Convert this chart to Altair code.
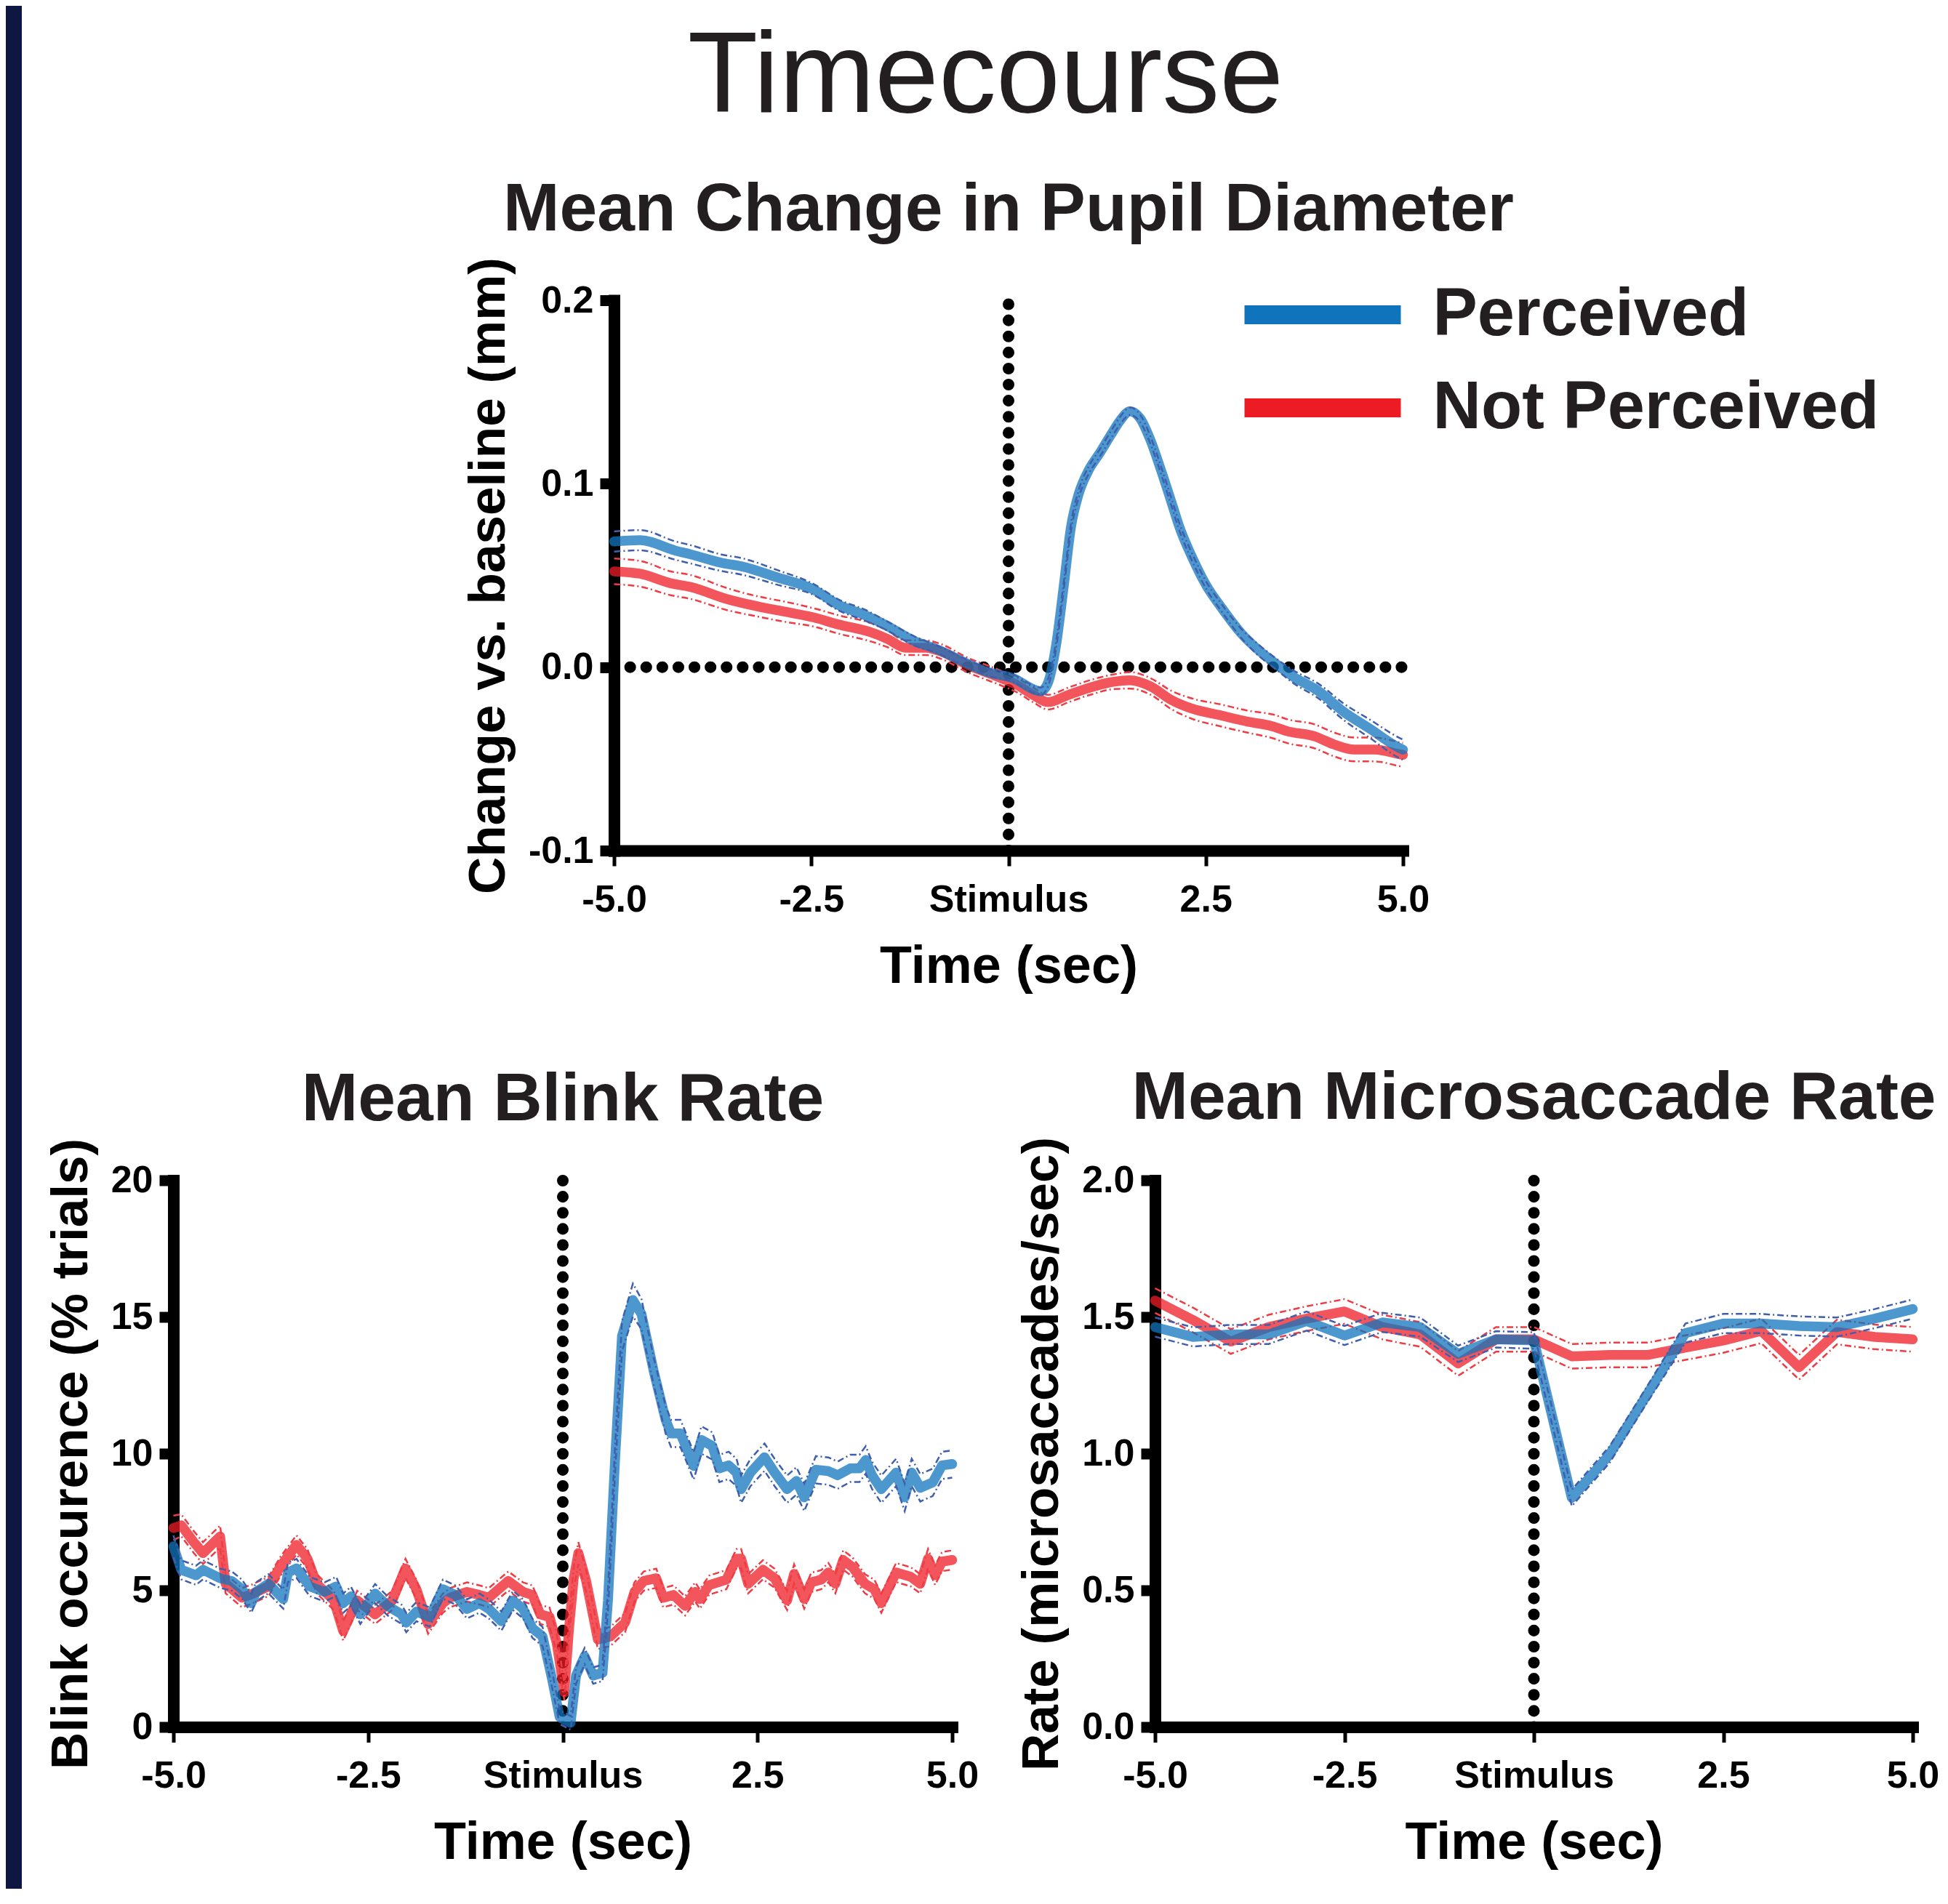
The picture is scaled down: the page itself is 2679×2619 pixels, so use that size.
import altair as alt
import pandas as pd

FONT = "Liberation Sans"
TXT = "#231f20"
BLUE = "#1074bc"
RED = "#ed1c24"
BLUE_CI = "#3f5fae"
RED_CI = "#ef3c44"
NAVY = "#0d1742"

SERIES = ["Perceived", "Not Perceived"]
X_TICKS = [-5.0, -2.5, 0.0, 2.5, 5.0]

# ---------------- Pupil diameter (mm change vs baseline) ----------------
PUPIL_P_T = [-5.0, -4.67, -4.22, -4.03, -3.64, -3.38, -2.93, -2.47, -2.15, -1.83,
             -1.57, -1.18, -0.92, -0.53, -0.27, 0.05, 0.41, 0.50, 0.60, 0.70,
             0.79, 0.89, 1.02, 1.15, 1.31, 1.41, 1.54, 1.67, 1.80, 1.93,
             2.06, 2.18, 2.31, 2.51, 2.70, 2.96, 3.15, 3.38, 3.61, 3.93,
             4.25, 4.58, 4.93, 5.0]
PUPIL_P_V = [0.0685, 0.0692, 0.0635, 0.0615, 0.0569, 0.0549, 0.0489, 0.0423, 0.0338, 0.0285,
             0.0232, 0.0140, 0.0100, 0.0021, -0.0026, -0.0059, -0.0131, -0.0085, 0.0113, 0.0443,
             0.0760, 0.0945, 0.1077, 0.1163, 0.1275, 0.1342, 0.1395, 0.1355, 0.1236, 0.1077,
             0.0906, 0.0747, 0.0615, 0.0443, 0.0324, 0.0179, 0.0100, 0.0021, -0.0052, -0.0131,
             -0.0244, -0.0336, -0.0435, -0.0450]
PUPIL_P_SEM = [0.0055, 0.0055, 0.005, 0.005, 0.0045, 0.0045, 0.004, 0.003, 0.003, 0.003,
               0.0025, 0.0025, 0.002, 0.002, 0.002, 0.002, 0.002, 0.002, 0.002, 0.002,
               0.002, 0.002, 0.002, 0.002, 0.002, 0.002, 0.002, 0.002, 0.002, 0.002,
               0.002, 0.002, 0.002, 0.002, 0.002, 0.0025, 0.003, 0.003, 0.0035, 0.004,
               0.0045, 0.005, 0.0055, 0.0055]

PUPIL_N_T = [-5.0, -4.67, -4.28, -4.03, -3.57, -3.18, -2.86, -2.47, -2.15, -1.76,
             -1.53, -1.31, -1.05, -0.86, -0.53, -0.14, 0.11, 0.31, 0.50, 0.76,
             1.08, 1.34, 1.54, 1.80, 2.06, 2.31, 2.70, 3.03, 3.35, 3.54,
             3.87, 4.13, 4.38, 4.64, 4.96, 5.0]
PUPIL_N_V = [0.0522, 0.0509, 0.0457, 0.0437, 0.0371, 0.0331, 0.0304, 0.0271, 0.0232, 0.0192,
             0.0153, 0.0106, 0.0106, 0.0086, 0.0014, -0.0052, -0.0098, -0.0151, -0.0191, -0.0151,
             -0.0105, -0.0079, -0.0072, -0.0105, -0.0178, -0.0224, -0.0264, -0.0297, -0.0323, -0.0350,
             -0.0376, -0.0422, -0.0449, -0.0449, -0.0475, -0.0478]
PUPIL_N_SEM = [0.007, 0.007, 0.0065, 0.0065, 0.006, 0.0055, 0.0055, 0.005, 0.005, 0.005,
               0.0045, 0.004, 0.004, 0.004, 0.004, 0.004, 0.004, 0.004, 0.004, 0.004,
               0.004, 0.004, 0.0045, 0.0045, 0.005, 0.0055, 0.006, 0.006, 0.0065, 0.0065,
               0.0065, 0.0065, 0.0065, 0.0065, 0.0065, 0.0065]

# ---------------- Blink occurrence (% trials) ----------------
BLINK_P_T = [-5.00, -4.90, -4.71, -4.62, -4.40, -4.25, -4.12, -4.00, -3.94, -3.78,
             -3.59, -3.53, -3.42, -3.25, -3.06, -2.91, -2.82, -2.72, -2.60, -2.41,
             -2.25, -2.07, -2.01, -1.88, -1.71, -1.54, -1.38, -1.23, -1.07, -0.95,
             -0.79, -0.64, -0.51, -0.39, -0.26, -0.14, -0.04, 0.10, 0.17, 0.28,
             0.39, 0.51, 0.58, 0.67, 0.76, 0.90, 1.01, 1.17, 1.32, 1.39,
             1.51, 1.60, 1.68, 1.78, 1.92, 2.01, 2.13, 2.23, 2.29, 2.41,
             2.59, 2.72, 2.88, 3.00, 3.10, 3.25, 3.41, 3.53, 3.69, 3.81,
             3.89, 3.97, 4.09, 4.28, 4.39, 4.48, 4.59, 4.75, 4.87, 5.00]
BLINK_P_V = [6.61, 5.75, 5.55, 5.75, 5.44, 5.34, 5.04, 4.53, 4.94, 5.24,
             4.68, 5.65, 5.80, 5.14, 4.94, 5.14, 4.53, 4.78, 4.12, 4.88,
             4.43, 4.12, 3.82, 4.22, 4.02, 5.04, 4.83, 4.32, 4.53, 4.32,
             3.87, 4.63, 4.32, 3.61, 3.31, 1.78, 0.36, 0.15, 1.88, 2.59,
             1.88, 1.98, 4.63, 9.72, 14.30, 15.62, 15.11, 12.98, 11.24, 10.74,
             10.74, 10.12, 9.55, 10.50, 10.28, 9.46, 9.57, 9.31, 8.70, 9.31,
             9.87, 9.31, 8.70, 9.00, 8.40, 9.41, 9.36, 9.21, 9.46, 9.46,
             9.77, 9.21, 8.70, 9.31, 8.40, 9.31, 8.75, 8.95, 9.57, 9.62]
BLINK_P_SEM = [0.40, 0.35, 0.35, 0.35, 0.35, 0.35, 0.35, 0.35, 0.35, 0.35,
               0.35, 0.35, 0.35, 0.35, 0.35, 0.35, 0.35, 0.35, 0.35, 0.35,
               0.35, 0.35, 0.35, 0.35, 0.35, 0.35, 0.35, 0.35, 0.35, 0.35,
               0.35, 0.35, 0.35, 0.35, 0.35, 0.30, 0.25, 0.25, 0.30, 0.30,
               0.30, 0.30, 0.40, 0.50, 0.55, 0.60, 0.55, 0.50, 0.50, 0.50,
               0.50, 0.50, 0.50, 0.50, 0.50, 0.50, 0.50, 0.50, 0.50, 0.50,
               0.50, 0.50, 0.50, 0.50, 0.50, 0.50, 0.50, 0.50, 0.50, 0.50,
               0.50, 0.50, 0.50, 0.50, 0.50, 0.50, 0.50, 0.50, 0.50, 0.50]

BLINK_N_T = [-5.00, -4.90, -4.74, -4.62, -4.40, -4.33, -4.12, -4.00, -3.78, -3.62,
             -3.42, -3.28, -3.16, -2.94, -2.82, -2.64, -2.41, -2.19, -2.02, -1.88,
             -1.73, -1.54, -1.45, -1.23, -1.07, -0.95, -0.70, -0.51, -0.39, -0.29,
             -0.17, -0.08, 0.02, 0.08, 0.14, 0.20, 0.30, 0.45, 0.61, 0.80,
             0.92, 1.04, 1.20, 1.29, 1.42, 1.57, 1.70, 1.76, 1.88, 2.10,
             2.23, 2.29, 2.38, 2.57, 2.72, 2.88, 2.97, 3.10, 3.19, 3.32,
             3.41, 3.50, 3.60, 3.72, 3.88, 4.00, 4.09, 4.28, 4.47, 4.59,
             4.69, 4.78, 4.87, 5.00]
BLINK_N_V = [7.28, 7.38, 6.77, 6.36, 6.97, 5.24, 4.73, 4.85, 5.14, 5.90,
             6.66, 6.16, 5.24, 4.63, 3.51, 4.63, 4.12, 4.63, 5.80, 5.04,
             3.76, 4.53, 4.73, 4.94, 4.83, 4.73, 5.34, 4.94, 4.83, 4.12,
             4.02, 3.10, 1.27, 3.61, 5.44, 6.36, 5.34, 3.20, 3.31, 3.82,
             4.94, 5.34, 5.44, 4.73, 4.83, 4.43, 4.94, 4.68, 5.19, 5.39,
             6.16, 6.16, 5.24, 5.75, 5.44, 4.63, 5.60, 4.68, 5.29, 5.39,
             5.65, 5.24, 6.11, 5.85, 5.24, 5.04, 4.53, 5.65, 5.49, 5.24,
             6.16, 5.55, 6.05, 6.11]
BLINK_N_SEM = [0.45, 0.40, 0.40, 0.40, 0.40, 0.35, 0.35, 0.35, 0.35, 0.35,
               0.35, 0.35, 0.35, 0.35, 0.35, 0.35, 0.35, 0.35, 0.35, 0.35,
               0.35, 0.35, 0.35, 0.35, 0.35, 0.35, 0.35, 0.35, 0.35, 0.35,
               0.35, 0.35, 0.30, 0.35, 0.40, 0.40, 0.40, 0.35, 0.35, 0.35,
               0.35, 0.35, 0.35, 0.35, 0.35, 0.35, 0.35, 0.35, 0.35, 0.35,
               0.35, 0.35, 0.35, 0.35, 0.35, 0.35, 0.35, 0.35, 0.35, 0.35,
               0.35, 0.35, 0.35, 0.35, 0.35, 0.35, 0.35, 0.35, 0.35, 0.35,
               0.35, 0.35, 0.35, 0.35]

# ---------------- Microsaccade rate (per sec) ----------------
MICRO_T = [-5.0, -4.5, -4.0, -3.5, -3.0, -2.5, -2.0, -1.5, -1.0, -0.5,
           0.0, 0.5, 1.0, 1.5, 2.0, 2.5, 3.0, 3.5, 4.0, 4.5, 5.0]
MICRO_P_V = [1.463, 1.427, 1.436, 1.436, 1.485, 1.432, 1.480, 1.463, 1.365, 1.418,
             1.414, 0.838, 0.997, 1.219, 1.441, 1.476, 1.476, 1.467, 1.463, 1.494, 1.529]
MICRO_P_SEM = [0.035, 0.035, 0.035, 0.035, 0.035, 0.035, 0.035, 0.035, 0.030, 0.030,
               0.030, 0.030, 0.030, 0.030, 0.035, 0.035, 0.035, 0.035, 0.035, 0.035, 0.035]
MICRO_N_V = [1.560, 1.489, 1.410, 1.463, 1.494, 1.520, 1.463, 1.436, 1.330, 1.418,
             1.418, 1.356, 1.361, 1.361, 1.388, 1.414, 1.449, 1.316, 1.445, 1.427, 1.418]
MICRO_N_SEM = [0.045, 0.045, 0.045, 0.045, 0.045, 0.045, 0.045, 0.045, 0.045, 0.045,
               0.045, 0.045, 0.045, 0.045, 0.045, 0.045, 0.045, 0.045, 0.045, 0.045, 0.045]


def series_df(t, v, sem, name):
    df = pd.DataFrame({"t": t, "v": v, "sem": sem})
    df["series"] = name
    return df


def ci_df(df):
    up = pd.DataFrame({"t": df["t"], "b": df["v"] + df["sem"], "bound": "upper"})
    lo = pd.DataFrame({"t": df["t"], "b": df["v"] - df["sem"], "bound": "lower"})
    return pd.concat([up, lo], ignore_index=True)


XLAB = ("datum.value == 0 ? 'Stimulus' : (datum.value < 0 ? '-' + format(-datum.value, '.1f')"
        " : format(datum.value, '.1f'))")
YLAB_1F = "datum.value < 0 ? '-' + format(-datum.value, '.1f') : format(datum.value, '.1f')"
YLAB_D = "format(datum.value, 'd')"

BASE_AX = dict(domainColor="black", domainWidth=16, domainCap="square", tickColor="black",
               labelFont=FONT, labelFontSize=52, labelFontWeight="bold", labelColor="black",
               titleFont=FONT, titleFontWeight="bold", titleColor="black", grid=False,
               labelFlush=False, labelOverlap=False, labelLimit=1000)


def x_axis():
    return alt.Axis(values=X_TICKS, labelExpr=XLAB, title="Time (sec)", tickWidth=5, tickSize=21,
                    labelPadding=21, titleFontSize=72, titlePadding=31, labelAngle=0, **BASE_AX)


def y_axis(vals, expr, title):
    return alt.Axis(values=vals, labelExpr=expr, title=title, tickWidth=15, tickSize=19.5,
                    labelPadding=9, titleFontSize=71, titlePadding=18, **BASE_AX)


def panel(red_df, blue_df, ydom, yvals, yexpr, ytitle, title, width, height, interp,
          title_offset, with_legend=False, hzero=False):
    xs = alt.Scale(domain=[-5, 5], nice=False, zero=False)
    ys = alt.Scale(domain=ydom, nice=False, zero=False)
    xa = x_axis()
    ya = y_axis(yvals, yexpr, ytitle)

    def X(f):
        return alt.X(f"{f}:Q", scale=xs, axis=xa)

    def Y(f):
        return alt.Y(f"{f}:Q", scale=ys, axis=ya)

    dot = dict(strokeDash=[0.1, 22], strokeWidth=16, strokeCap="round", color="black")
    layers = []
    vr = pd.DataFrame({"t": [0.0], "lo": [ydom[0]], "hi": [ydom[1]]})
    layers.append(alt.Chart(vr).mark_rule(**dot).encode(x=X("t"), y=Y("lo"), y2="hi:Q"))
    if hzero:
        hr = pd.DataFrame({"t0": [-5.0], "t1": [5.0], "v": [0.0]})
        layers.append(alt.Chart(hr).mark_rule(**dot).encode(x=X("t0"), x2="t1:Q", y=Y("v")))

    line_kw = dict(strokeWidth=13.5, strokeCap="round", strokeJoin="round", strokeOpacity=0.75,
                   interpolate=interp)
    ci_kw = dict(strokeWidth=2.5, strokeDash=[9, 4, 2, 4], interpolate=interp)

    if with_legend:
        color = alt.Color("series:N", scale=alt.Scale(domain=SERIES, range=[BLUE, RED]),
                          legend=alt.Legend(orient="none", legendX=854, legendY=-30, title=None,
                                            direction="vertical", symbolType="stroke",
                                            symbolSize=46225, symbolStrokeWidth=26,
                                            symbolOpacity=1, labelFont=FONT, labelFontSize=92,
                                            labelFontWeight="bold", labelColor=TXT,
                                            labelOffset=31, labelLimit=2000, rowPadding=28,
                                            clipHeight=100, padding=0))
        red_line = alt.Chart(red_df).mark_line(**line_kw).encode(x=X("t"), y=Y("v"), color=color)
        blue_line = alt.Chart(blue_df).mark_line(**line_kw).encode(x=X("t"), y=Y("v"), color=color)
    else:
        red_line = alt.Chart(red_df).mark_line(color=RED, **line_kw).encode(x=X("t"), y=Y("v"))
        blue_line = alt.Chart(blue_df).mark_line(color=BLUE, **line_kw).encode(x=X("t"), y=Y("v"))

    red_ci = alt.Chart(ci_df(red_df)).mark_line(color=RED_CI, **ci_kw).encode(
        x=X("t"), y=Y("b"), detail="bound:N")
    blue_ci = alt.Chart(ci_df(blue_df)).mark_line(color=BLUE_CI, **ci_kw).encode(
        x=X("t"), y=Y("b"), detail="bound:N")

    layers += [red_line, red_ci, blue_line, blue_ci]
    return alt.layer(*layers).properties(
        width=width, height=height,
        title=alt.TitleParams(title, font=FONT, fontSize=93, fontWeight="bold", color=TXT,
                              anchor="middle", frame="group", baseline="top",
                              offset=title_offset))


pupil = panel(series_df(PUPIL_N_T, PUPIL_N_V, PUPIL_N_SEM, "Not Perceived"),
              series_df(PUPIL_P_T, PUPIL_P_V, PUPIL_P_SEM, "Perceived"),
              [-0.1, 0.2], [-0.1, 0.0, 0.1, 0.2], YLAB_1F, "Change vs. baseline (mm)",
              "Mean Change in Pupil Diameter", 1085, 757, "monotone", 17,
              with_legend=True, hzero=True)

blink = panel(series_df(BLINK_N_T, BLINK_N_V, BLINK_N_SEM, "Not Perceived"),
              series_df(BLINK_P_T, BLINK_P_V, BLINK_P_SEM, "Perceived"),
              [0, 20], [0, 5, 10, 15, 20], YLAB_D, "Blink occurence (% trials)",
              "Mean Blink Rate", 1071, 752, "linear", 4.5)

micro = panel(series_df(MICRO_T, MICRO_N_V, MICRO_N_SEM, "Not Perceived"),
              series_df(MICRO_T, MICRO_P_V, MICRO_P_SEM, "Perceived"),
              [0, 2], [0.0, 0.5, 1.0, 1.5, 2.0], YLAB_1F, "Rate (microsaccades/sec)",
              "Mean Microsaccade Rate", 1042, 752, "linear", 4.5)

# invisible spacer that shifts the pupil panel to the right
spacer = alt.Chart(pd.DataFrame({"a": [0]})).mark_point(opacity=0).properties(width=300, height=10)

top_row = alt.hconcat(spacer, pupil, spacing=97).resolve_scale(color="independent")
bottom_row = alt.hconcat(blink, micro, spacing=51).resolve_scale(color="independent")

main = alt.vconcat(
    top_row, bottom_row, spacing=99.5,
    title=alt.TitleParams("Timecourse", font=FONT, fontSize=158, fontWeight="normal", color=TXT,
                          anchor="middle", baseline="top", offset=56, dx=-9),
).resolve_scale(color="independent")

# decorative dark strip along the left edge of the page
navy = alt.Chart(pd.DataFrame({"a": [0]})).mark_rect(color=NAVY).encode(
    x=alt.value(0), x2=alt.value(22), y=alt.value(-405), y2=alt.value(2185)
).properties(width=22, height=2185)

chart = (
    alt.hconcat(navy, main, spacing=31.5)
    .resolve_scale(color="independent")
    .properties(padding={"left": 0, "top": 0, "right": 0, "bottom": 0}, background="white")
    .configure_view(stroke=None)
)

chart.save("out.html", embed_options={"renderer": "svg", "actions": False})
